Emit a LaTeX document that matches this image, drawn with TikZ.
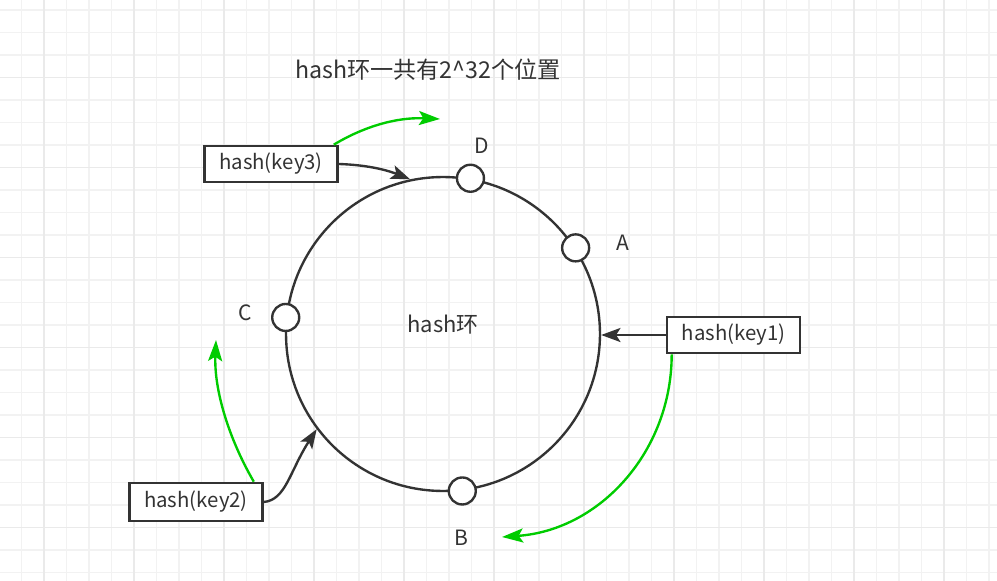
\documentclass[tikz,border=0pt]{standalone}
\usepackage{fontspec}
\setmainfont{Noto Sans CJK SC}
\usetikzlibrary{arrows.meta}
\definecolor{ink}{HTML}{333333}
\definecolor{grn}{HTML}{00CC00}
\definecolor{gridminor}{HTML}{F2F2F2}
\definecolor{gridmajor}{HTML}{EAEAEA}

\begin{document}
\begin{tikzpicture}[x=0.02cm, y=-0.02cm,
    keybox/.style={draw=ink, line width=1.5pt, fill=white, minimum width=2.66cm,
      minimum height=0.72cm, inner sep=0pt, text=ink, font=\fontsize{11.6}{14}\selectfont},
    slot/.style={circle, draw=ink, line width=1.35pt, fill=white, minimum size=0.54cm, inner sep=0pt},
    tag/.style={text=ink, inner sep=1pt, font=\fontsize{12}{14}\selectfont},
    hit/.style={ink, line width=1.35pt, -{Stealth[length=11pt, width=8pt, inset=2.5pt]}},
    walk/.style={grn, line width=1.35pt, -{Stealth[length=12pt, width=8pt, inset=2.5pt]}}]

\useasboundingbox (0,0) rectangle (997,581);

% Background grid
\foreach \i in {1,...,44}{
  \draw[gridminor, line width=0.6pt] ({-1+22.5*\i},0) -- ({-1+22.5*\i},581);
}
\foreach \i in {0,...,25}{
  \draw[gridminor, line width=0.6pt] (0,{10+22.5*\i}) -- (997,{10+22.5*\i});
}
\foreach \i in {0,...,10}{
  \draw[gridmajor, line width=0.6pt] ({44+90*\i},0) -- ({44+90*\i},581);
}
\foreach \i in {0,...,5}{
  \draw[gridmajor, line width=0.6pt] (0,{77.5+90*\i}) -- (997,{77.5+90*\i});
}

% Title
\node[tag, font=\fontsize{13.2}{15}\selectfont] (title) at (428,70) {hash环一共有2\^{}32个位置};

% The ring and its nodes
\node[circle, draw=ink, line width=1.35pt, minimum size=6.28cm, inner sep=0pt] (ring) at (443,334) {};
\node[tag, font=\fontsize{12.5}{14}\selectfont] (ringtxt) at (443,325) {hash环};

\foreach \n/\a in {D/80, A/33, C/174, B/277}{
  \node[slot] (s\n) at (ring.\a) {};
}
\node[tag] (tD) at (482,146) {D};
\node[tag] (tA) at (623,243) {A};
\node[tag] (tC) at (245,313) {C};
\node[tag] (tB) at (461,538) {B};

% Keys
\node[keybox] (key3) at (271,164) {hash(key3)};
\node[keybox] (key1) at (733.5,335) {hash(key1)};
\node[keybox, minimum height=0.76cm] (key2) at (196,502) {hash(key2)};

% Where each key lands on the ring
\draw[hit] (key1.west) -- (key1.west -| ring.east);
\draw[hit] (key3.east) .. controls +(32,1) and +(-20,-8) .. (ring.102);
\draw[hit] (key2.east) .. controls +(22,-2) and +(-27,42) .. (ring.217);

% Walking clockwise to the next node
\coordinate (g3) at (440,119);
\coordinate (g2) at (216,340);
\coordinate (g1) at (502,537);
\draw[walk] ([xshift=-0.1cm]key3.north east) .. controls +(28,-17) and +(-45,-2) .. (g3);
\draw[walk] ([xshift=-0.2cm]key2.north east) .. controls +(-25,-43) and +(-2,50) .. (g2);
\draw[walk] ([xshift=0.12cm]key1.south west) .. controls +(0,97) and +(98,-7) .. (g1);

\end{tikzpicture}
\end{document}
